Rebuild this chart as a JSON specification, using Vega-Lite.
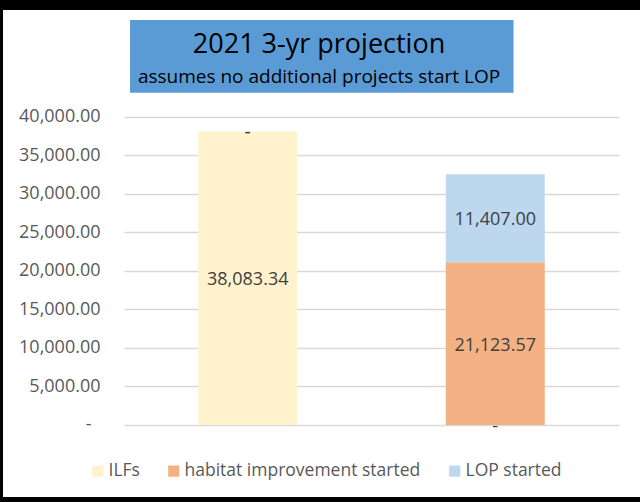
{
  "$schema": "https://vega.github.io/schema/vega-lite/v6.json",
  "width": 637,
  "height": 487,
  "autosize": {"type": "none"},
  "padding": {"left": 3, "top": 10, "right": 0, "bottom": 5},
  "background": "#000000",
  "config": {"view": {"fill": "#ffffff", "stroke": null}, "font": "Open Sans"},
  "layer": [
    {
      "data": {
        "values": [
          {"cat": "A", "series": "ILFs", "stackOrder": 1, "value": 38083.34},
          {"cat": "A", "series": "habitat improvement started", "stackOrder": 2, "value": 0},
          {"cat": "A", "series": "LOP started", "stackOrder": 3, "value": 0},
          {"cat": "B", "series": "ILFs", "stackOrder": 1, "value": 0},
          {"cat": "B", "series": "habitat improvement started", "stackOrder": 2, "value": 21123.57},
          {"cat": "B", "series": "LOP started", "stackOrder": 3, "value": 11407.0}
        ]
      },
      "transform": [
        {"stack": "value", "groupby": ["cat"], "sort": [{"field": "stackOrder", "order": "ascending"}], "as": ["v0", "v1"]}
      ],
      "encoding": {
        "x": {
          "field": "cat",
          "type": "nominal",
          "axis": null,
          "scale": {"range": [121, 616], "paddingInner": 0.6, "paddingOuter": 0.3}
        }
      },
      "layer": [
        {
          "mark": {"type": "bar"},
          "encoding": {
            "y": {
              "field": "v1",
              "type": "quantitative",
              "scale": {"domain": [-9342, 53844], "nice": false, "zero": false},
              "axis": {
                "values": [0, 5000, 10000, 15000, 20000, 25000, 30000, 35000, 40000],
                "offset": -121,
                "domain": false,
                "ticks": false,
                "grid": true,
                "gridColor": "#d9d9d9",
                "gridWidth": 1.5,
                "labelPadding": {"condition": {"test": "datum.value == 0", "value": 33}, "value": 24},
                "labelFont": "Open Sans",
                "labelFontSize": 18,
                "labelColor": "#595959",
                "title": null,
                "labelExpr": "datum.value == 0 ? '-' : format(datum.value, ',.2f')"
              }
            },
            "y2": {"field": "v0"},
            "color": {
              "field": "series",
              "type": "nominal",
              "scale": {
                "domain": ["ILFs", "habitat improvement started", "LOP started"],
                "range": ["#FFF2CC", "#F4B183", "#BDD7EE"]
              },
              "legend": {
                "title": null,
                "orient": "none",
                "direction": "horizontal",
                "legendX": 86,
                "legendY": 452,
                "symbolType": "square",
                "symbolSize": 125,
                "symbolStrokeWidth": 0,
                "labelFont": "Open Sans",
                "labelFontSize": 17.5,
                "labelColor": "#595959",
                "labelOffset": 2,
                "labelLimit": 400,
                "columnPadding": 25,
                "padding": 0
              }
            }
          }
        },
        {
          "transform": [
            {"fold": ["v0", "v1"], "as": ["edge", "pos"]},
            {"aggregate": [{"op": "mean", "field": "pos", "as": "mid"}], "groupby": ["cat", "series", "value"]}
          ],
          "mark": {"type": "text", "fontSize": 18, "color": "#404040", "font": "Open Sans", "baseline": "middle", "dy": 2},
          "encoding": {
            "y": {
              "field": "mid",
              "type": "quantitative",
              "scale": {"domain": [-9342, 53844], "nice": false, "zero": false}
            },
            "text": {
              "condition": {"test": "datum.value == 0", "value": "-"},
              "field": "value",
              "type": "quantitative",
              "format": ",.2f"
            }
          }
        }
      ]
    },
    {
      "data": {
        "values": [
          {"kind": "title", "text": "2021 3-yr projection"},
          {"kind": "subtitle", "text": "assumes no additional projects start LOP"}
        ]
      },
      "layer": [
        {
          "transform": [{"filter": "datum.kind == 'title'"}],
          "mark": {"type": "rect", "color": "#5B9BD5"},
          "encoding": {
            "x": {"datum": 0.1994, "type": "quantitative", "scale": {"domain": [0, 1], "nice": false, "zero": false}, "axis": null},
            "x2": {"datum": 0.8014},
            "y": {"datum": 0.9795, "type": "quantitative", "scale": {"domain": [0, 1], "nice": false, "zero": false}, "axis": null},
            "y2": {"datum": 0.8302}
          }
        },
        {
          "transform": [{"filter": "datum.kind == 'title'"}],
          "mark": {"type": "text", "fontSize": 27, "color": "#000000", "font": "Open Sans", "baseline": "alphabetic", "align": "center"},
          "encoding": {
            "x": {"datum": 0.4961, "type": "quantitative"},
            "y": {"datum": 0.9117, "type": "quantitative"},
            "text": {"field": "text"}
          }
        },
        {
          "transform": [{"filter": "datum.kind == 'subtitle'"}],
          "mark": {"type": "text", "fontSize": 19, "color": "#000000", "font": "Open Sans", "baseline": "alphabetic", "align": "center"},
          "encoding": {
            "x": {"datum": 0.4961, "type": "quantitative"},
            "y": {"datum": 0.8495, "type": "quantitative"},
            "text": {"field": "text"}
          }
        }
      ]
    }
  ],
  "resolve": {"scale": {"x": "independent", "y": "independent"}}
}
